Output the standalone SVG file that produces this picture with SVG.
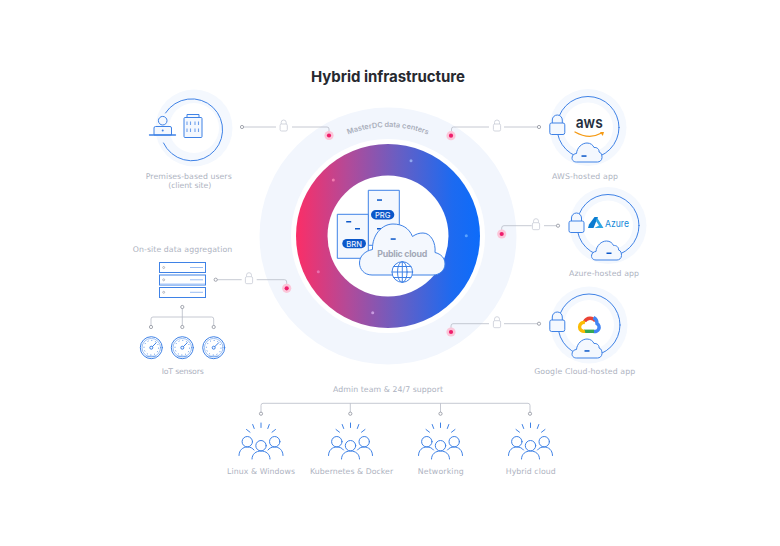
<svg xmlns="http://www.w3.org/2000/svg" xmlns:xlink="http://www.w3.org/1999/xlink" width="780" height="546" viewBox="0 0 780 546">
<style>
text{font-family:"Inter","Open Sans","Liberation Sans",sans-serif}
.t{font-family:"DejaVu Sans","Open Sans",sans-serif;font-size:7.800px;fill:#aeb3bf;text-anchor:middle;font-weight:400}
.b{fill:none;stroke:#3f82e6;stroke-width:1;stroke-linecap:round;stroke-linejoin:round}
.f{fill:#f4f8fe;stroke:#3f82e6;stroke-width:1;stroke-linejoin:round}
.c{fill:none;stroke:#b7bbc6;stroke-width:.8}
.d{fill:#fff;stroke:#8d919c;stroke-width:.8}
.l{fill:#fff;stroke:#c8ccd6;stroke-width:.8}
.dash{fill:#0b57c9}
.pale{fill:#f4f8fe}
.pill{fill:#0b57c9}
.pt{font-size:7.600px;fill:#e8f0ff;text-anchor:middle;font-weight:500}
.p1{fill:#fbc6d9}.p2{fill:#ef1d6c}
</style>
<defs>
<linearGradient id="ring" gradientUnits="userSpaceOnUse" x1="296" y1="0" x2="480" y2="0">
<stop offset="0" stop-color="#fb2e67"/><stop offset=".28" stop-color="#b34a98"/><stop offset=".55" stop-color="#6a5ec2"/><stop offset=".85" stop-color="#1d6af0"/><stop offset="1" stop-color="#0d6cfa"/>
</linearGradient>
<g id="glock"><path class="l" d="M-2.500-2V-3.500A2.500 2.500 0 0 1 2.500-3.500V-2"/><rect class="l" x="-3.600" y="-2" width="7.200" height="7" rx="1.400"/></g>
<g id="pink"><circle class="p1" r="4.600"/><circle class="p2" r="2.100"/></g>
<g id="applock"><path class="f" d="M-5-4V-7A5 5 0 0 1 5-7V-4"/><rect class="f" x="-7.500" y="-4" width="15" height="11.500" rx="1.800"/></g>
<path id="minicloud" class="f" d="M-10.500 9.500C-14 9.500-15 7-15 5.500C-15 2.500-12.500 1-10.500 1C-10 -5-5-9.500 0-9.500C3.500-9.500 6-7.500 7-5C10-5.500 12.500-3 12-.5C14.500 0 15 3 15 5C15 8 12.500 9.500 10.500 9.500Z"/>
<g id="people">
<path class="b" d="M0-17V-12.500M-8.300-15.500L-6.800-11.500M-14.500-10.500L-11-7.800M8.300-15.500L6.800-11.500M14.500-10.500L11-7.800"/>
<circle class="b" cx="-13.700" cy="1.700" r="5.200"/><circle class="b" cx="13.700" cy="1.700" r="5.200"/>
<path class="b" d="M-22 15.500C-22 10-18 7-13.700 7C-10.500 7-8.500 8-7 10M22 15.500C22 10 18 7 13.700 7C10.500 7 8.500 8 7 10"/>
<circle class="b" cx="0" cy="5.700" r="5.200"/>
<path class="b" d="M-9 19C-9 14-5 11 0 11C5 11 9 14 9 19"/>
</g>
<g id="gauge">
<circle class="b" r="11" fill="#fff"/><circle class="b" r="9.300" style="stroke-width:.5"/>
<circle r="7.300" fill="none" stroke="#3f82e6" stroke-width="1" stroke-dasharray=".9 2.900"/>
<path class="b" d="M-1 1L5-5"/><circle class="f" r="1.500"/>
<path class="b" d="M-4.500 8.500H4.500" style="stroke-width:.6"/>
</g>
</defs>

<rect width="780" height="546" fill="#fff"/>
<text x="388" y="82" text-anchor="middle" font-size="15" font-weight="700" fill="#27292f" textLength="154">Hybrid infrastructure</text>

<g id="datacenters">
<circle cx="388" cy="236" r="128.500" fill="#f2f6fd"/>
<path id="arc" fill="none" d="M 279 236 A 109 109 0 0 1 497 236"/>
<text font-size="7.300" font-weight="600" fill="#a9aebb"><textPath xlink:href="#arc" href="#arc" startOffset="50%" text-anchor="middle">MasterDC data centers</textPath></text>
<circle cx="388" cy="236" r="97" fill="#fff"/>
<circle cx="388" cy="236" r="92" fill="url(#ring)"/>
<circle cx="388" cy="236" r="60.500" fill="#fff"/>
<circle cx="333.300" cy="180" r="1.500" fill="#f27bb0"/>
<circle cx="411" cy="160.700" r="1.500" fill="#8fa8f0"/>
<circle cx="466.300" cy="235.700" r="1.500" fill="#5aa2ff"/>
<circle cx="318.300" cy="271.700" r="1.500" fill="#e871ae"/>
<circle cx="372.700" cy="312.700" r="1.500" fill="#c79be0"/>
</g>

<g id="public-cloud">
<rect class="f" x="368.300" y="190.300" width="31" height="55"/>
<rect class="f" x="337.300" y="214.300" width="31" height="44"/>
<rect class="pill" x="371" y="210" width="23.300" height="9.400" rx="4.700"/>
<text class="pt" x="382.700" y="217.800">PRG</text>
<rect class="pill" x="342.300" y="239" width="23.700" height="9.200" rx="4.600"/>
<text class="pt" x="354.100" y="246.700">BRN</text>
<rect class="dash" x="377" y="199.300" width="5" height="1.500"/>
<rect class="dash" x="346.200" y="221" width="5" height="1.500"/>
<rect class="dash" x="355" y="228" width="5" height="1.500"/>
<rect class="dash" x="377" y="228" width="5" height="1.500"/>
<path class="f" d="M372 275C364 275 359.500 269 359.500 263C359.500 256 365 251 372.500 249.500C372 235 382 224 393 224C402 224 409 228 412.500 236.500C416 234 419 233 423 233C431 233 436 243 435 252.500C441 254 445 258 445 264C445 270 440 275 433 275Z"/>
<rect class="dash" x="390.700" y="238.300" width="5" height="1.500"/>
<text x="402.300" y="257" text-anchor="middle" font-size="8.800" font-weight="700" fill="#a3a9b7" textLength="50">Public cloud</text>
<circle class="b" cx="402.300" cy="272" r="10.300" fill="#fff" style="fill:#fff"/>
<path class="b" d="M392 272H412.600M393.500 266.500H411M393.500 277.500H411M402.300 261.700V282.300"/>
<ellipse class="b" cx="402.300" cy="272" rx="4.800" ry="10.300"/>
</g>

<g id="connectors">
<path class="c" d="M242 127H276M292 127H327Q329 127 329 129V135"/>
<path class="c" d="M539 127H504M489 127H453.500Q451.500 127 451.500 129V136"/>
<path class="c" d="M558 225.700H544M531.700 225.700H504Q501.700 225.700 501.700 228V234"/>
<path class="c" d="M539 323.700H504M489 323.700H453Q451 323.700 451 326V332"/>
<path class="c" d="M215.700 279.700H241.700M256.700 279.700H284.500Q286.700 279.700 286.700 282V288"/>
<path class="c" d="M182.300 307V327M151 327V319Q151 317 153 317H211.700Q213.700 317 213.700 319V327"/>
<path class="c" d="M261 413.700V405.500Q261 403.300 263 403.300H528Q530 403.300 530 405.500V413.700M350.300 403.300V413.700M440.500 403.300V413.700"/>
<g class="d">
<circle cx="242" cy="127" r="1.600"/><circle cx="539" cy="127" r="1.600"/><circle cx="558" cy="225.700" r="1.600"/><circle cx="539" cy="323.700" r="1.600"/><circle cx="215.700" cy="279.700" r="1.600"/>
<circle cx="182.300" cy="307" r="1.600"/><circle cx="151" cy="327" r="1.600"/><circle cx="182.300" cy="327" r="1.600"/><circle cx="213.700" cy="327" r="1.600"/>
<circle cx="261" cy="413.700" r="1.600"/><circle cx="350.300" cy="413.700" r="1.600"/><circle cx="440.500" cy="413.700" r="1.600"/><circle cx="530" cy="413.700" r="1.600"/>
</g>
<use href="#glock" x="283.700" y="126"/><use href="#glock" x="497" y="126"/><use href="#glock" x="536" y="224.700"/><use href="#glock" x="497" y="322.700"/><use href="#glock" x="249" y="278.700"/>
<use href="#pink" x="329" y="135.500"/><use href="#pink" x="451" y="135.700"/><use href="#pink" x="501.700" y="234"/><use href="#pink" x="451" y="332"/><use href="#pink" x="286.700" y="288.300"/>
</g>

<g id="premises">
<circle class="pale" cx="194" cy="128" r="38.500"/><circle cx="194" cy="128" r="25" fill="#fff"/>
<path class="b" d="M165.500 113A31 31 0 1 1 163.500 143"/>
<circle class="f" cx="162.700" cy="120.700" r="4.300"/>
<path class="f" d="M154 135V128Q154 126.500 155.500 126.500H170Q171.500 126.500 171.500 128V135Z"/>
<circle cx="162.700" cy="130.500" r="1" fill="#3f82e6"/>
<path class="b" d="M149.500 135H175.500" style="stroke-width:1.300"/>
<rect class="f" x="187" y="114.500" width="12" height="3"/>
<rect class="f" x="184" y="117.500" width="18" height="20" rx="1"/>
<path d="M187 121.500V125M190.500 121.500V125M195 121.500V125M198.500 121.500V125M187 128.500V132M190.500 128.500V132M195 128.500V132M198.500 128.500V132" stroke="#6fa0ec" stroke-width="1.100" fill="none"/>
<text class="t" x="188.700" y="179" textLength="86">Premises-based users</text>
<text class="t" x="189.700" y="188.300" textLength="43">(client site)</text>
</g>

<g id="aws">
<circle class="pale" cx="588" cy="127.500" r="38.500"/><circle cx="588" cy="127.500" r="25" fill="#fff"/>
<circle class="b" cx="588" cy="127.500" r="31"/>
<use href="#applock" x="557.300" y="127"/>
<use href="#minicloud" x="587" y="152.500"/>
<rect class="dash" x="581.500" y="155.300" width="5" height="1.500"/>
<text x="589.200" y="128.300" text-anchor="middle" font-size="16.500" font-weight="600" fill="#252f3e" textLength="27" lengthAdjust="spacingAndGlyphs">aws</text>
<path d="M575 132Q589 140 601 133.300" fill="none" stroke="#f59a14" stroke-width="1.300" stroke-linecap="round"/>
<path d="M600 132L604 132L602.800 136Z" fill="#f59a14"/>
<text class="t" x="585" y="179" textLength="66">AWS-hosted app</text>
</g>

<g id="azure">
<circle class="pale" cx="608" cy="225.500" r="38.500"/><circle cx="608" cy="225.500" r="25" fill="#fff"/>
<circle class="b" cx="608" cy="225.500" r="31"/>
<use href="#applock" x="576.500" y="225"/>
<use href="#minicloud" x="606.500" y="250.500"/>
<rect class="dash" x="606.500" y="252.500" width="5" height="1.500"/>
<path d="M594.500 217L589 224.500L588 228H593.500L598 217Z" fill="#0a7bd0"/>
<path d="M596 221L599 225.500L594.500 228H603.500L597 217.500Z" fill="#2fa6e4"/>
<text x="617" y="227" text-anchor="middle" font-size="9.500" fill="#1489d8" textLength="24" lengthAdjust="spacingAndGlyphs">Azure</text>
<text class="t" x="604" y="276" textLength="70">Azure-hosted app</text>
</g>

<g id="google-cloud">
<circle class="pale" cx="589" cy="325" r="38.500"/><circle cx="589" cy="325" r="25" fill="#fff"/>
<circle class="b" cx="589" cy="325" r="31"/>
<use href="#applock" x="557.300" y="324"/>
<use href="#minicloud" x="587" y="348.500"/>
<rect class="dash" x="584.500" y="350.200" width="5" height="1.500"/>
<g fill="none" stroke-width="3.400">
<path d="M584.500 321.500A6.500 6.500 0 0 1 595.500 321" stroke="#ea4335"/>
<path d="M593.500 317.500A6.500 6.500 0 0 1 597 323.500A4.300 4.300 0 0 1 593.500 331.300" stroke="#4285f4"/>
<path d="M594 331.300H584" stroke="#34a853"/>
<path d="M585 331.300A4.500 4.500 0 1 1 585 322.500" stroke="#fbbc05"/>
</g>
<text class="t" x="584.700" y="374" textLength="101">Google Cloud-hosted app</text>
</g>

<g id="aggregation">
<text class="t" x="182.500" y="252" textLength="99.500">On-site data aggregation</text>
<g fill="#fff" stroke="#3f82e6" stroke-width="1">
<rect x="159.500" y="262.500" width="46" height="10"/>
<rect x="159.500" y="275" width="46" height="10"/>
<rect x="159.500" y="287.500" width="46" height="10"/>
</g>
<path d="M160 284.300H205" stroke="#a9c8f7" stroke-width="1.400"/>
<path d="M190 267.500H203M190 279.800H203M190 292.300H203" stroke="#6fa0ec" stroke-width=".7"/>
<g fill="#fff" stroke="#8d919c" stroke-width=".6"><circle cx="163.700" cy="267.500" r="1"/><circle cx="163.700" cy="279.800" r="1"/><circle cx="163.700" cy="292.300" r="1"/></g>
</g>

<g id="iot-sensors">
<use href="#gauge" x="151.300" y="347.700"/><use href="#gauge" x="182.300" y="347.700"/><use href="#gauge" x="213.700" y="347.700"/>
<text class="t" x="182.700" y="374" textLength="42">IoT sensors</text>
</g>

<g id="admin">
<text class="t" x="388" y="392" textLength="110">Admin team &amp; 24/7 support</text>
</g>
<g id="team-linux"><use href="#people" x="261" y="440"/><text class="t" x="261" y="474" textLength="68">Linux &amp; Windows</text></g>
<g id="team-k8s"><use href="#people" x="350.500" y="440"/><text class="t" x="351.600" y="474" textLength="83">Kubernetes &amp; Docker</text></g>
<g id="team-net"><use href="#people" x="440.500" y="440"/><text class="t" x="440.700" y="474" textLength="46">Networking</text></g>
<g id="team-hybrid"><use href="#people" x="530.500" y="440"/><text class="t" x="530.700" y="474" textLength="50">Hybrid cloud</text></g>
</svg>
